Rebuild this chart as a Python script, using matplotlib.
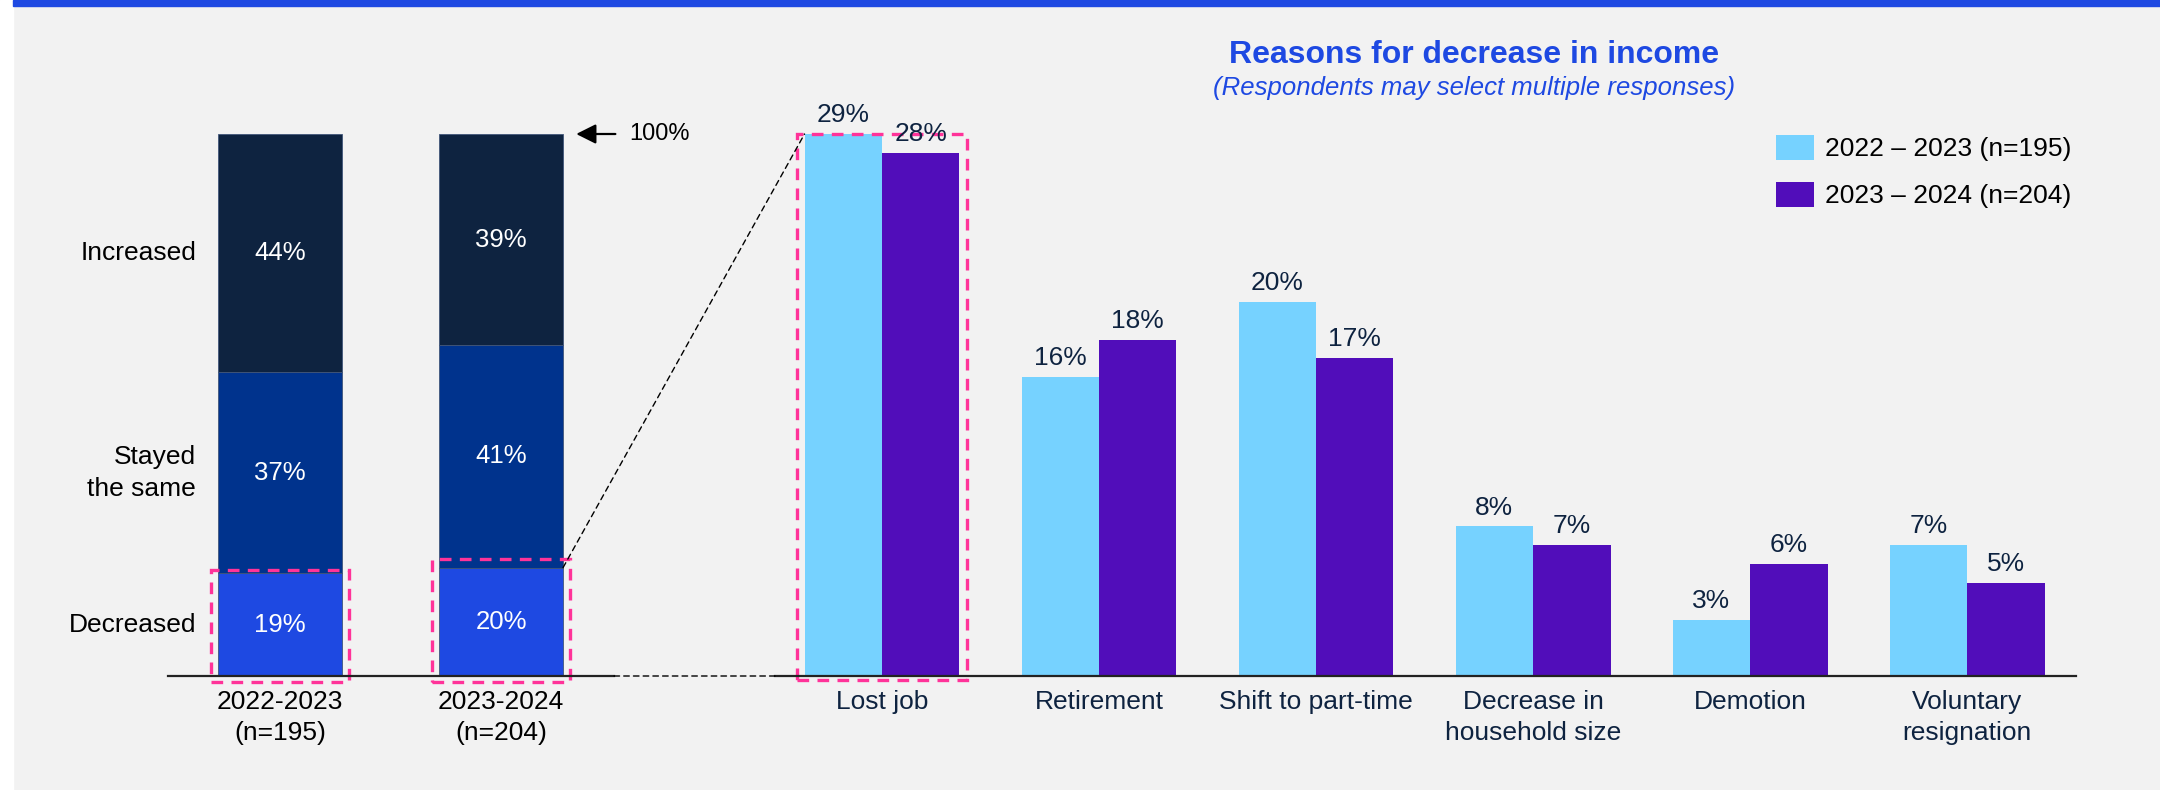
import matplotlib.pyplot as plt
from matplotlib.patches import Rectangle, ConnectionPatch

plt.rcParams['font.family'] = ['Liberation Sans', 'DejaVu Sans']

# Change in household income, share of respondents (%)
periods = ['2022-2023\n(n=195)', '2023-2024\n(n=204)']
change_labels = ['Decreased', 'Stayed\nthe same', 'Increased']
decreased = [19, 20]
stayed = [37, 41]
increased = [44, 39]

# Reasons for decrease in income (%), multiple responses allowed
reasons = ['Lost job', 'Retirement', 'Shift to part-time',
           'Decrease in\nhousehold size', 'Demotion', 'Voluntary\nresignation']
share_2223 = [29, 16, 20, 8, 3, 7]
share_2324 = [28, 18, 17, 7, 6, 5]
series_labels = ['2022 – 2023 (n=195)', '2023 – 2024 (n=204)']

NAVY = '#0e2340'
PINK = '#ff3399'
BLUE = '#1e49e2'
seg_colors = [BLUE, '#00338d', NAVY]
pair_colors = ['#76d2ff', '#510dba']
box_style = (0, (3.5, 2.5))
link_style = (0, (4, 3))

W, H = 2160, 790
fig = plt.figure(figsize=(W / 100, H / 100), dpi=100, facecolor='#f2f2f2')
fig.add_artist(Rectangle((0, 0), 13 / W, 1, transform=fig.transFigure,
                         color='white', zorder=0))
fig.add_artist(Rectangle((13 / W, 1 - 6 / H), 1, 6 / H, transform=fig.transFigure,
                         color=BLUE, zorder=0))

base = (H - 676) / H
top = (H - 100) / H
ax1 = fig.add_axes([168 / W, base, 446 / W, top - base])
ax2 = fig.add_axes([775 / W, base, 1301 / W, top - base])

for ax in (ax1, ax2):
    ax.set_facecolor('none')
    for s in ('top', 'left', 'right'):
        ax.spines[s].set_visible(False)
    ax.spines['bottom'].set_color('#222222')
    ax.spines['bottom'].set_linewidth(1.6)
    ax.set_yticks([])
    ax.tick_params(axis='x', length=0, pad=10)

# left: stacked 100% bars
ax1.set_xlim(-0.507, 1.511)
ax1.set_ylim(0, 100 * 576 / 542)
x = [0, 1]
w = 0.561
bottom = [0, 0]
for vals, col, lab in zip([decreased, stayed, increased], seg_colors, change_labels):
    bars = ax1.bar(x, vals, w, bottom=bottom, color=col, edgecolor='#41567a', linewidth=0.6)
    ax1.bar_label(bars, labels=[f'{v}%' for v in vals], label_type='center',
                  color='white', fontsize=18.5)
    ax1.text(-0.38, bottom[0] + vals[0] / 2, lab, ha='right', va='center',
             fontsize=19, color='black', linespacing=1.4)
    bottom = [b + v for b, v in zip(bottom, vals)]

ax1.set_xticks(x, periods, fontsize=19, color='black')
for t in ax1.get_xticklabels():
    t.set_linespacing(1.4)

ax1.annotate('100%', xy=(1.34, bottom[1]), xytext=(1.58, bottom[1]), va='center',
             fontsize=17, annotation_clip=False,
             arrowprops=dict(arrowstyle='-|>', color='black', lw=1.6,
                             mutation_scale=30, shrinkA=8, shrinkB=0))

# dashed highlight around the "Decreased" segments
for i, v, pad_top in zip(x, decreased, [0.6, 1.6]):
    ax1.add_patch(Rectangle((i - w / 2 - 0.03, -1.1), w + 0.06, v + 1.1 + pad_top,
                            fill=False, edgecolor=PINK, lw=2.4, linestyle=box_style,
                            clip_on=False, zorder=2.5))

# right: grouped bars
ax2.set_xlim(-0.493, 5.502)
ax2.set_ylim(0, 29 * 576 / 542)
bw = 0.357
xi = list(range(len(reasons)))
for k, (vals, col, lab) in enumerate(zip([share_2223, share_2324], pair_colors, series_labels)):
    pos = [p + (k - 0.5) * bw for p in xi]
    bars = ax2.bar(pos, vals, bw, color=col, label=lab)
    ax2.bar_label(bars, labels=[f'{v}%' for v in vals], padding=5,
                  fontsize=19, color=NAVY)

ax2.set_xticks(xi, reasons, fontsize=19, color=NAVY)
for t in ax2.get_xticklabels():
    t.set_linespacing(1.4)

ax2.add_patch(Rectangle((-0.392, -0.2), 0.784, max(share_2223[0], share_2324[0]) + 0.2,
                        fill=False, edgecolor=PINK, lw=2.4, linestyle=box_style,
                        clip_on=False, zorder=2.5))

# zoom connectors between the two panels
fig.add_artist(ConnectionPatch(xyA=(1 + w / 2, decreased[1]), coordsA=ax1.transData,
                               xyB=(-bw, share_2223[0]), coordsB=ax2.transData,
                               color='black', lw=1.0, linestyle=link_style))
fig.add_artist(ConnectionPatch(xyA=(1, 0), coordsA=ax1.transAxes,
                               xyB=(0, 0), coordsB=ax2.transAxes,
                               color='black', lw=1.0, linestyle=link_style))

ax2.legend(loc='upper left', bbox_to_anchor=(1776 / W, (H - 135) / H),
           bbox_transform=fig.transFigure, frameon=False, fontsize=19,
           handlelength=1.44, handleheight=1.06, handletextpad=0.42,
           labelspacing=0.78, borderpad=0, borderaxespad=0)

fig.text(1474 / W, (H - 63) / H, 'Reasons for decrease in income', ha='center',
         va='baseline', fontsize=23, fontweight='bold', color=BLUE)
fig.text(1474 / W, (H - 95) / H, '(Respondents may select multiple responses)',
         ha='center', va='baseline', fontsize=18.5, fontstyle='italic', color=BLUE)

fig.savefig('out.png', dpi=100, facecolor=fig.get_facecolor())
